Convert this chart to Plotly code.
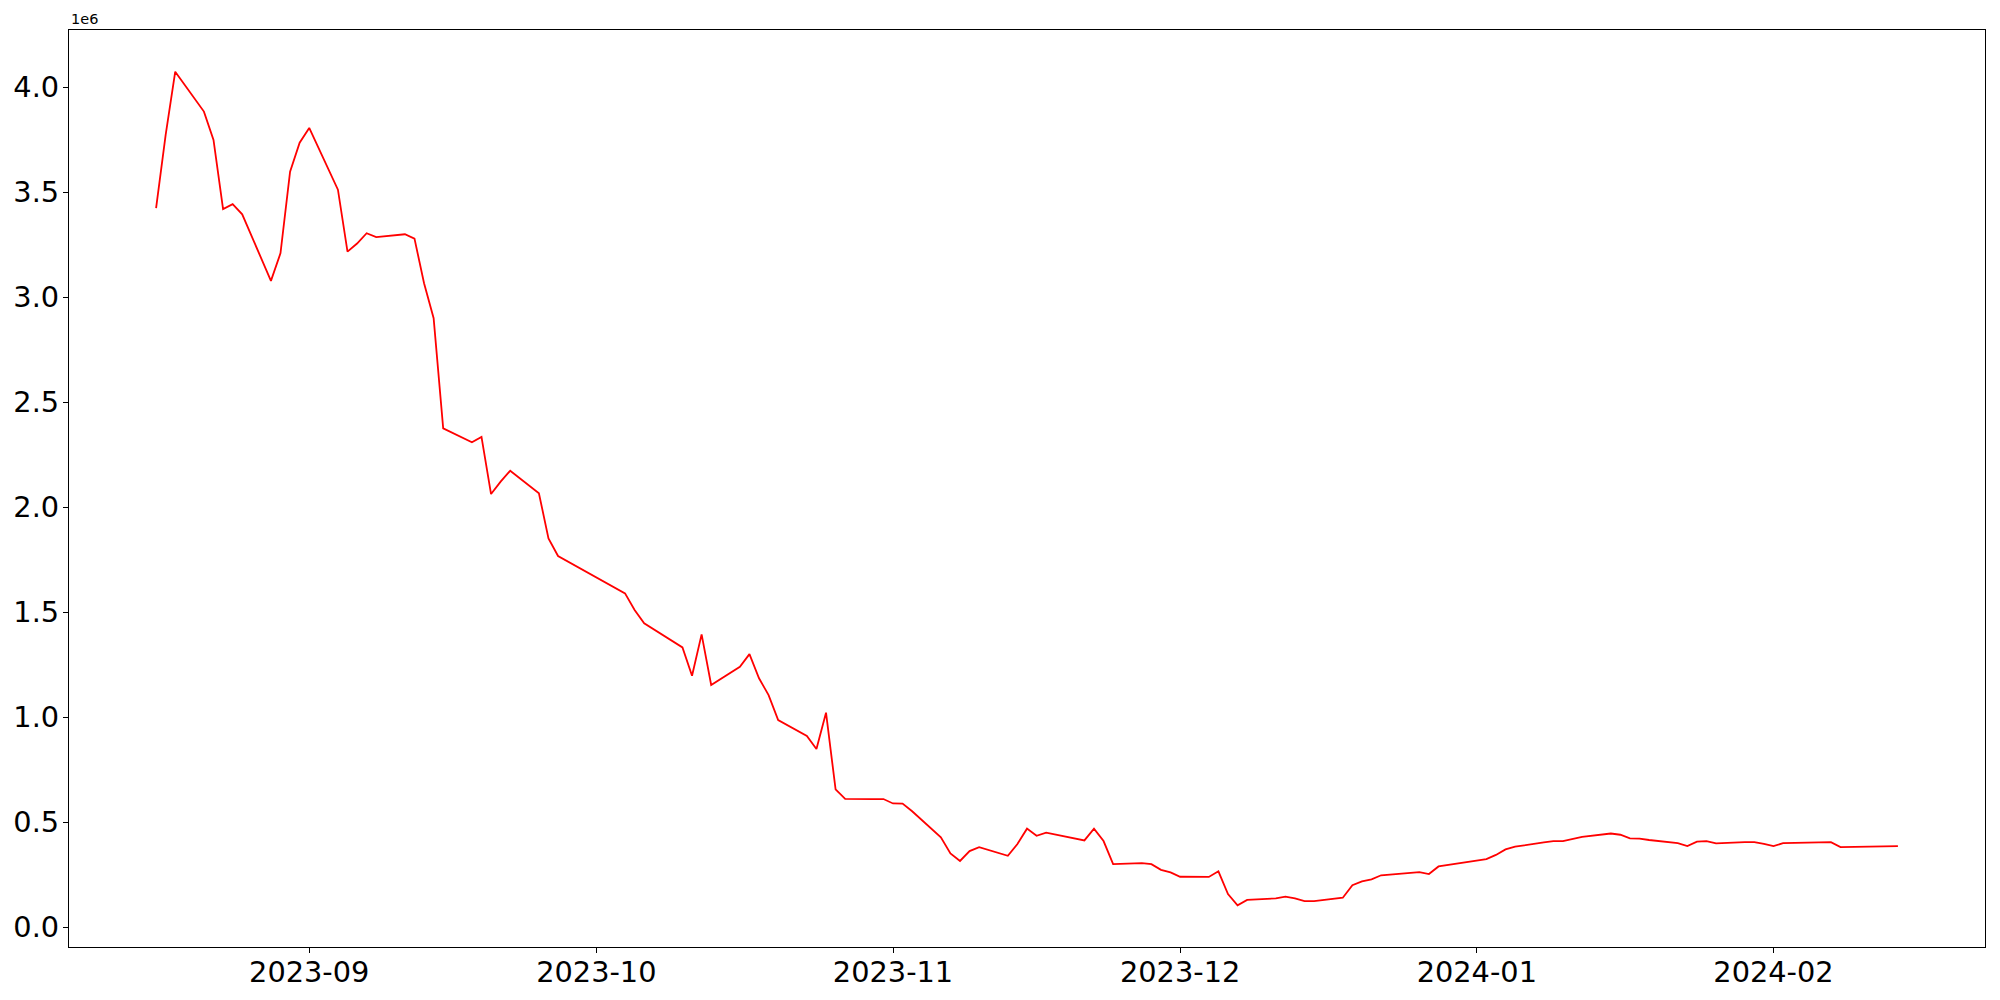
import pandas as pd
import plotly.graph_objects as go

dates = [
    "2023-08-16", "2023-08-17", "2023-08-18", "2023-08-21", "2023-08-22", "2023-08-23",
    "2023-08-24", "2023-08-25", "2023-08-28", "2023-08-29", "2023-08-30", "2023-08-31",
    "2023-09-01", "2023-09-04", "2023-09-05", "2023-09-06", "2023-09-07", "2023-09-08",
    "2023-09-11", "2023-09-12", "2023-09-13", "2023-09-14", "2023-09-15", "2023-09-18",
    "2023-09-19", "2023-09-20", "2023-09-21", "2023-09-22", "2023-09-25", "2023-09-26",
    "2023-09-27", "2023-10-04", "2023-10-05", "2023-10-06", "2023-10-10", "2023-10-11",
    "2023-10-12", "2023-10-13", "2023-10-16", "2023-10-17", "2023-10-18", "2023-10-19",
    "2023-10-20", "2023-10-23", "2023-10-24", "2023-10-25", "2023-10-26", "2023-10-27",
    "2023-10-30", "2023-10-31", "2023-11-01", "2023-11-02", "2023-11-03", "2023-11-06",
    "2023-11-07", "2023-11-08", "2023-11-09", "2023-11-10", "2023-11-13", "2023-11-14",
    "2023-11-15", "2023-11-16", "2023-11-17", "2023-11-21", "2023-11-22", "2023-11-23",
    "2023-11-24", "2023-11-27", "2023-11-28", "2023-11-29", "2023-11-30", "2023-12-01",
    "2023-12-04", "2023-12-05", "2023-12-06", "2023-12-07", "2023-12-08", "2023-12-11",
    "2023-12-12", "2023-12-13", "2023-12-14", "2023-12-15", "2023-12-18", "2023-12-19",
    "2023-12-20", "2023-12-21", "2023-12-22", "2023-12-26", "2023-12-27", "2023-12-28",
    "2024-01-02", "2024-01-03", "2024-01-04", "2024-01-05", "2024-01-08", "2024-01-09",
    "2024-01-10", "2024-01-11", "2024-01-12", "2024-01-15", "2024-01-16", "2024-01-17",
    "2024-01-18", "2024-01-19", "2024-01-22", "2024-01-23", "2024-01-24", "2024-01-25",
    "2024-01-26", "2024-01-29", "2024-01-30", "2024-01-31", "2024-02-01", "2024-02-02",
    "2024-02-05", "2024-02-06", "2024-02-07", "2024-02-08", "2024-02-14",
]

# values in units of 1e6
values = [
    3.424, 3.773, 4.074, 3.884, 3.749, 3.420,
    3.443, 3.395, 3.078, 3.210, 3.598, 3.736,
    3.806, 3.512, 3.217, 3.256, 3.305, 3.286,
    3.300, 3.279, 3.067, 2.900, 2.376, 2.310,
    2.335, 2.063, 2.122, 2.174, 2.067, 1.852,
    1.768, 1.590, 1.511, 1.448, 1.333, 1.198,
    1.395, 1.154, 1.241, 1.301, 1.186, 1.106,
    0.987, 0.911, 0.849, 1.022, 0.657, 0.612,
    0.611, 0.611, 0.590, 0.589, 0.553, 0.429,
    0.352, 0.316, 0.363, 0.382, 0.341, 0.397,
    0.470, 0.436, 0.451, 0.414, 0.470, 0.411,
    0.301, 0.306, 0.301, 0.274, 0.262, 0.241,
    0.240, 0.267, 0.159, 0.105, 0.131, 0.138,
    0.146, 0.138, 0.125, 0.125, 0.141, 0.201,
    0.219, 0.229, 0.248, 0.263, 0.254, 0.290,
    0.325, 0.345, 0.371, 0.384, 0.405, 0.411,
    0.411, 0.420, 0.431, 0.447, 0.441, 0.424,
    0.423, 0.416, 0.401, 0.387, 0.408, 0.411,
    0.400, 0.406, 0.406, 0.398, 0.387, 0.401,
    0.403, 0.406, 0.406, 0.382, 0.387,
]

x_ticks = ["2023-09-01", "2023-10-01", "2023-11-01", "2023-12-01", "2024-01-01", "2024-02-01"]
x_tick_labels = ["2023-09", "2023-10", "2023-11", "2023-12", "2024-01", "2024-02"]
y_ticks = [0.0, 0.5, 1.0, 1.5, 2.0, 2.5, 3.0, 3.5, 4.0]
y_tick_labels = ["0.0", "0.5", "1.0", "1.5", "2.0", "2.5", "3.0", "3.5", "4.0"]
offset_label = "1e6"

dt = pd.to_datetime(dates)
xpad = (dt.max() - dt.min()) * 0.05
x_range = [dt.min() - xpad, dt.max() + xpad]
ypad = (max(values) - min(values)) * 0.05
y_range = [min(values) - ypad, max(values) + ypad]

font = "DejaVu Sans"
fig = go.Figure()
fig.add_trace(go.Scatter(x=dt, y=values, mode="lines",
                         line=dict(color="#ff0000", width=1.8), showlegend=False))

axis_common = dict(showgrid=False, zeroline=False, showline=True, mirror=True,
                   linecolor="black", linewidth=1.2, ticks="outside", ticklen=5,
                   tickwidth=1.2, tickcolor="black", automargin=False,
                   tickfont=dict(family=font, size=28.8, color="black"))

fig.update_xaxes(range=x_range, tickvals=x_ticks, ticktext=x_tick_labels,
                 ticklabelstandoff=-6, **axis_common)
fig.update_yaxes(range=y_range, tickvals=y_ticks, ticktext=y_tick_labels,
                 ticklabelstandoff=-2, **axis_common)

fig.add_annotation(text=offset_label, xref="paper", yref="paper", x=0, y=1,
                   xanchor="left", yanchor="bottom", showarrow=False, yshift=1,
                   font=dict(family=font, size=14.5, color="black"))

# page body has an 8px margin, so the figure is sized to fill the rest
fig.update_layout(width=1984, height=984, autosize=False,
                  margin=dict(l=61, r=7, t=22, b=45, pad=0),
                  plot_bgcolor="white", paper_bgcolor="white",
                  font=dict(family=font, color="black"))

fig.write_html("out.html")
